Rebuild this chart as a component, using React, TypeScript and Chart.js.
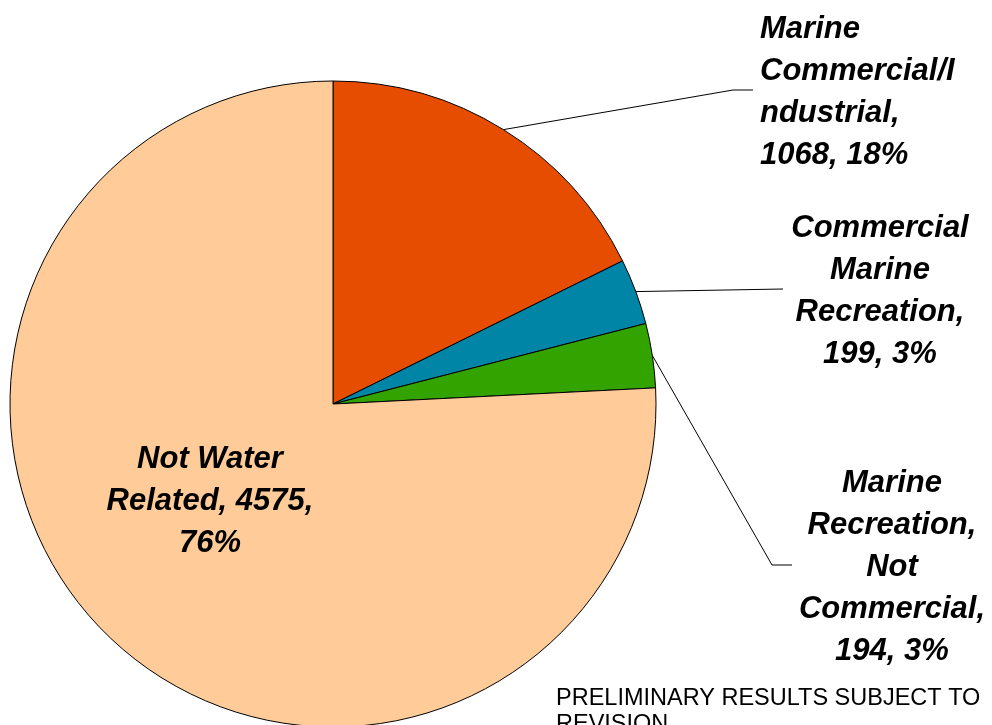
import React, { useEffect, useRef } from "react";
import { Chart, registerables } from "chart.js";

Chart.register(...registerables);

// ---- data ----
const categories = [
  "Marine Commercial/Industrial",
  "Commercial Marine Recreation",
  "Marine Recreation, Not Commercial",
  "Not Water Related",
];
const values = [1068, 199, 194, 4575];
const colors = ["#E64D00", "#0085A6", "#33A300", "#FFCC99"];
// wrapped label text; {v} = value, {p} = percent
const labelLines = [
  ["Marine", "Commercial/I", "ndustrial,", "{v}, {p}%"],
  ["Commercial", "Marine", "Recreation,", "{v}, {p}%"],
  ["Marine", "Recreation,", "Not", "Commercial,", "{v}, {p}%"],
  ["Not Water", "Related, {v},", "{p}%"],
];
const footnote = ["PRELIMINARY RESULTS SUBJECT TO", "REVISION"];

// ---- layout (positions / styles) ----
const LABEL_FONT = "italic bold 31px 'Liberation Sans', Arial, sans-serif";
const LINE_H = 42;
const LABEL_LAYOUT = [
  { x: 760, y: 29, align: "left", elbow: [[733, 90], [753, 90]] },
  { x: 880, y: 228, align: "center", elbow: [[783, 289]] },
  { x: 892, y: 483, align: "center", elbow: [[772, 565], [792, 565]] },
  { x: 210, y: 459, align: "center", elbow: null },
];

const total = values.reduce((a, b) => a + b, 0);

const labelPlugin = {
  id: "pieLabels",
  afterDatasetsDraw(chart: any) {
    const ctx = chart.ctx;
    const meta = chart.getDatasetMeta(0);
    ctx.save();
    meta.data.forEach((arc: any, i: number) => {
      const p = arc.getProps(["x", "y", "startAngle", "endAngle", "outerRadius"], true);
      const mid = (p.startAngle + p.endAngle) / 2;
      const lay = LABEL_LAYOUT[i];
      if (lay.elbow) {
        const sx = p.x + Math.cos(mid) * p.outerRadius;
        const sy = p.y + Math.sin(mid) * p.outerRadius;
        ctx.beginPath();
        ctx.strokeStyle = "#000";
        ctx.lineWidth = 1;
        ctx.moveTo(sx, sy);
        lay.elbow.forEach((pt: number[]) => ctx.lineTo(pt[0], pt[1]));
        ctx.stroke();
      }
      const pct = Math.round((values[i] / total) * 100);
      ctx.fillStyle = "#000";
      ctx.font = LABEL_FONT;
      ctx.textAlign = lay.align;
      ctx.textBaseline = "middle";
      labelLines[i].forEach((ln, k) => {
        const txt = ln.replace("{v}", String(values[i])).replace("{p}", String(pct));
        ctx.fillText(txt, lay.x, lay.y + k * LINE_H);
      });
    });
    ctx.font = "23.5px 'Liberation Sans', Arial, sans-serif";
    ctx.textAlign = "left";
    ctx.textBaseline = "middle";
    footnote.forEach((ln, k) => ctx.fillText(ln, 556, 699 + k * 26));
    ctx.restore();
  },
};

export default function App() {
  const ref = useRef<HTMLCanvasElement>(null);
  useEffect(() => {
    if (!ref.current) return;
    const chart = new Chart(ref.current, {
      type: "pie",
      data: {
        labels: categories,
        datasets: [
          {
            data: values,
            backgroundColor: colors,
            borderColor: "#000",
            borderWidth: 1,
          },
        ],
      },
      options: {
        responsive: false,
        animation: false,
        devicePixelRatio: 1,
        radius: 323,
        layout: { padding: { left: 10, right: 336, top: 83, bottom: 0 } },
        plugins: {
          legend: { display: false },
          tooltip: { enabled: false },
        },
      } as any,
      plugins: [labelPlugin],
    });
    return () => chart.destroy();
  }, []);
  return (
    <div style={{ position: "absolute", left: 0, top: 0, width: 992, height: 725, overflow: "hidden", background: "#fff" }}>
      <canvas ref={ref} width={992} height={725} style={{ width: 992, height: 725, display: "block" }} />
    </div>
  );
}
